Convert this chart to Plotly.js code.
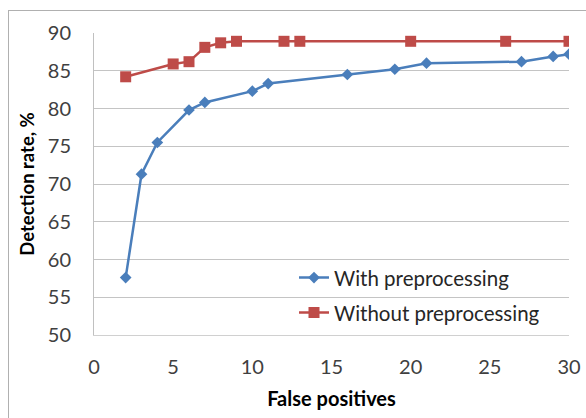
<!DOCTYPE html>
<html>
<head>
<meta charset="utf-8">
<script src="https://cdn.plot.ly/plotly-3.0.1.min.js"></script>
<style>
  html, body { margin: 0; padding: 0; background: #ffffff; }
  #wrap { position: relative; width: 586px; height: 418px; overflow: hidden; }
  #frame { position: absolute; left: 8px; top: 10px; width: 700px; height: 600px; border: 1px solid #b0b0b0; box-sizing: border-box; pointer-events: none; }
  #chart { position: absolute; left: 0; top: 0; width: 586px; height: 418px; }
</style>
</head>
<body>
<div id="wrap">
  <div id="frame"></div>
  <div id="chart"></div>
</div>
<script>
// Data
const withX = [2, 3, 4, 6, 7, 10, 11, 16, 19, 21, 27, 29, 30];
const withY = [57.6, 71.3, 75.5, 79.8, 80.8, 82.3, 83.3, 84.5, 85.2, 86.0, 86.2, 86.9, 87.2];
const withoutX = [2, 5, 6, 7, 8, 9, 12, 13, 20, 26, 30];
const withoutY = [84.2, 85.9, 86.2, 88.1, 88.7, 88.9, 88.9, 88.9, 88.9, 88.9, 88.9];
const seriesNames = ['With preprocessing', 'Without preprocessing'];
const xTicks = [0, 5, 10, 15, 20, 25, 30];
const yTicks = [50, 55, 60, 65, 70, 75, 80, 85, 90];
const xTitle = 'False positives';
const yTitle = 'Detection rate, %';

const FONT = 'Lato, "Open Sans", "Liberation Sans", sans-serif';

const traces = [
  {
    x: withX, y: withY, name: seriesNames[0], type: 'scatter', mode: 'lines+markers',
    line: { color: '#4A7EBB', width: 2.5 },
    marker: { symbol: 'diamond', size: 9, color: '#4A7EBB' },
    legend: 'legend'
  },
  {
    x: withoutX, y: withoutY, name: seriesNames[1], type: 'scatter', mode: 'lines+markers',
    line: { color: '#BE4B48', width: 2.5 },
    marker: { symbol: 'square', size: 11, color: '#BE4B48' },
    legend: 'legend2'
  }
];

const legendCommon = {
  xanchor: 'left', yanchor: 'middle',
  bgcolor: 'rgba(0,0,0,0)', borderwidth: 0,
  font: { family: FONT, size: 20.5, color: '#262626' }
};

const layout = {
  width: 586, height: 418,
  margin: { l: 94, r: 17, t: 33, b: 83 },
  paper_bgcolor: 'rgba(0,0,0,0)',
  plot_bgcolor: 'rgba(0,0,0,0)',
  font: { family: FONT, size: 20, color: '#404040' },
  showlegend: true,
  legend: Object.assign({}, legendCommon),
  legend2: Object.assign({}, legendCommon),
  xaxis: {
    range: [0, 30], tickvals: xTicks, ticktext: xTicks.map(String),
    showgrid: false, zeroline: false,
    showline: true, linecolor: '#d0d0d0', linewidth: 1,
    ticks: '', ticklabelstandoff: 14,
    tickfont: { family: FONT, size: 20, color: '#404040' },
    title: { text: xTitle, font: { family: FONT, size: 20, color: '#000000', weight: 'bold' }, standoff: 14 },
    fixedrange: true
  },
  yaxis: {
    range: [50, 90], tickvals: yTicks, ticktext: yTicks.map(String),
    showgrid: true, gridcolor: '#c4c4c4', gridwidth: 1, zeroline: false,
    showline: true, linecolor: '#c0c0c0', linewidth: 1,
    ticks: '', ticklabelstandoff: 18,
    tickfont: { family: FONT, size: 20, color: '#404040' },
    title: { text: yTitle, font: { family: FONT, size: 18.5, color: '#000000', weight: 'bold' }, standoff: 8 },
    fixedrange: true
  }
};

// legend positions in paper coordinates (plot area spans 475 x 302 px)
layout.legend.x = (294 - 94) / 475;
layout.legend.y = (335 - 277.7) / 302;
layout.legend2.x = (294 - 94) / 475;
layout.legend2.y = (335 - 312.7) / 302;

Plotly.newPlot('chart', traces, layout, { displayModeBar: false, staticPlot: true });
</script>
</body>
</html>
